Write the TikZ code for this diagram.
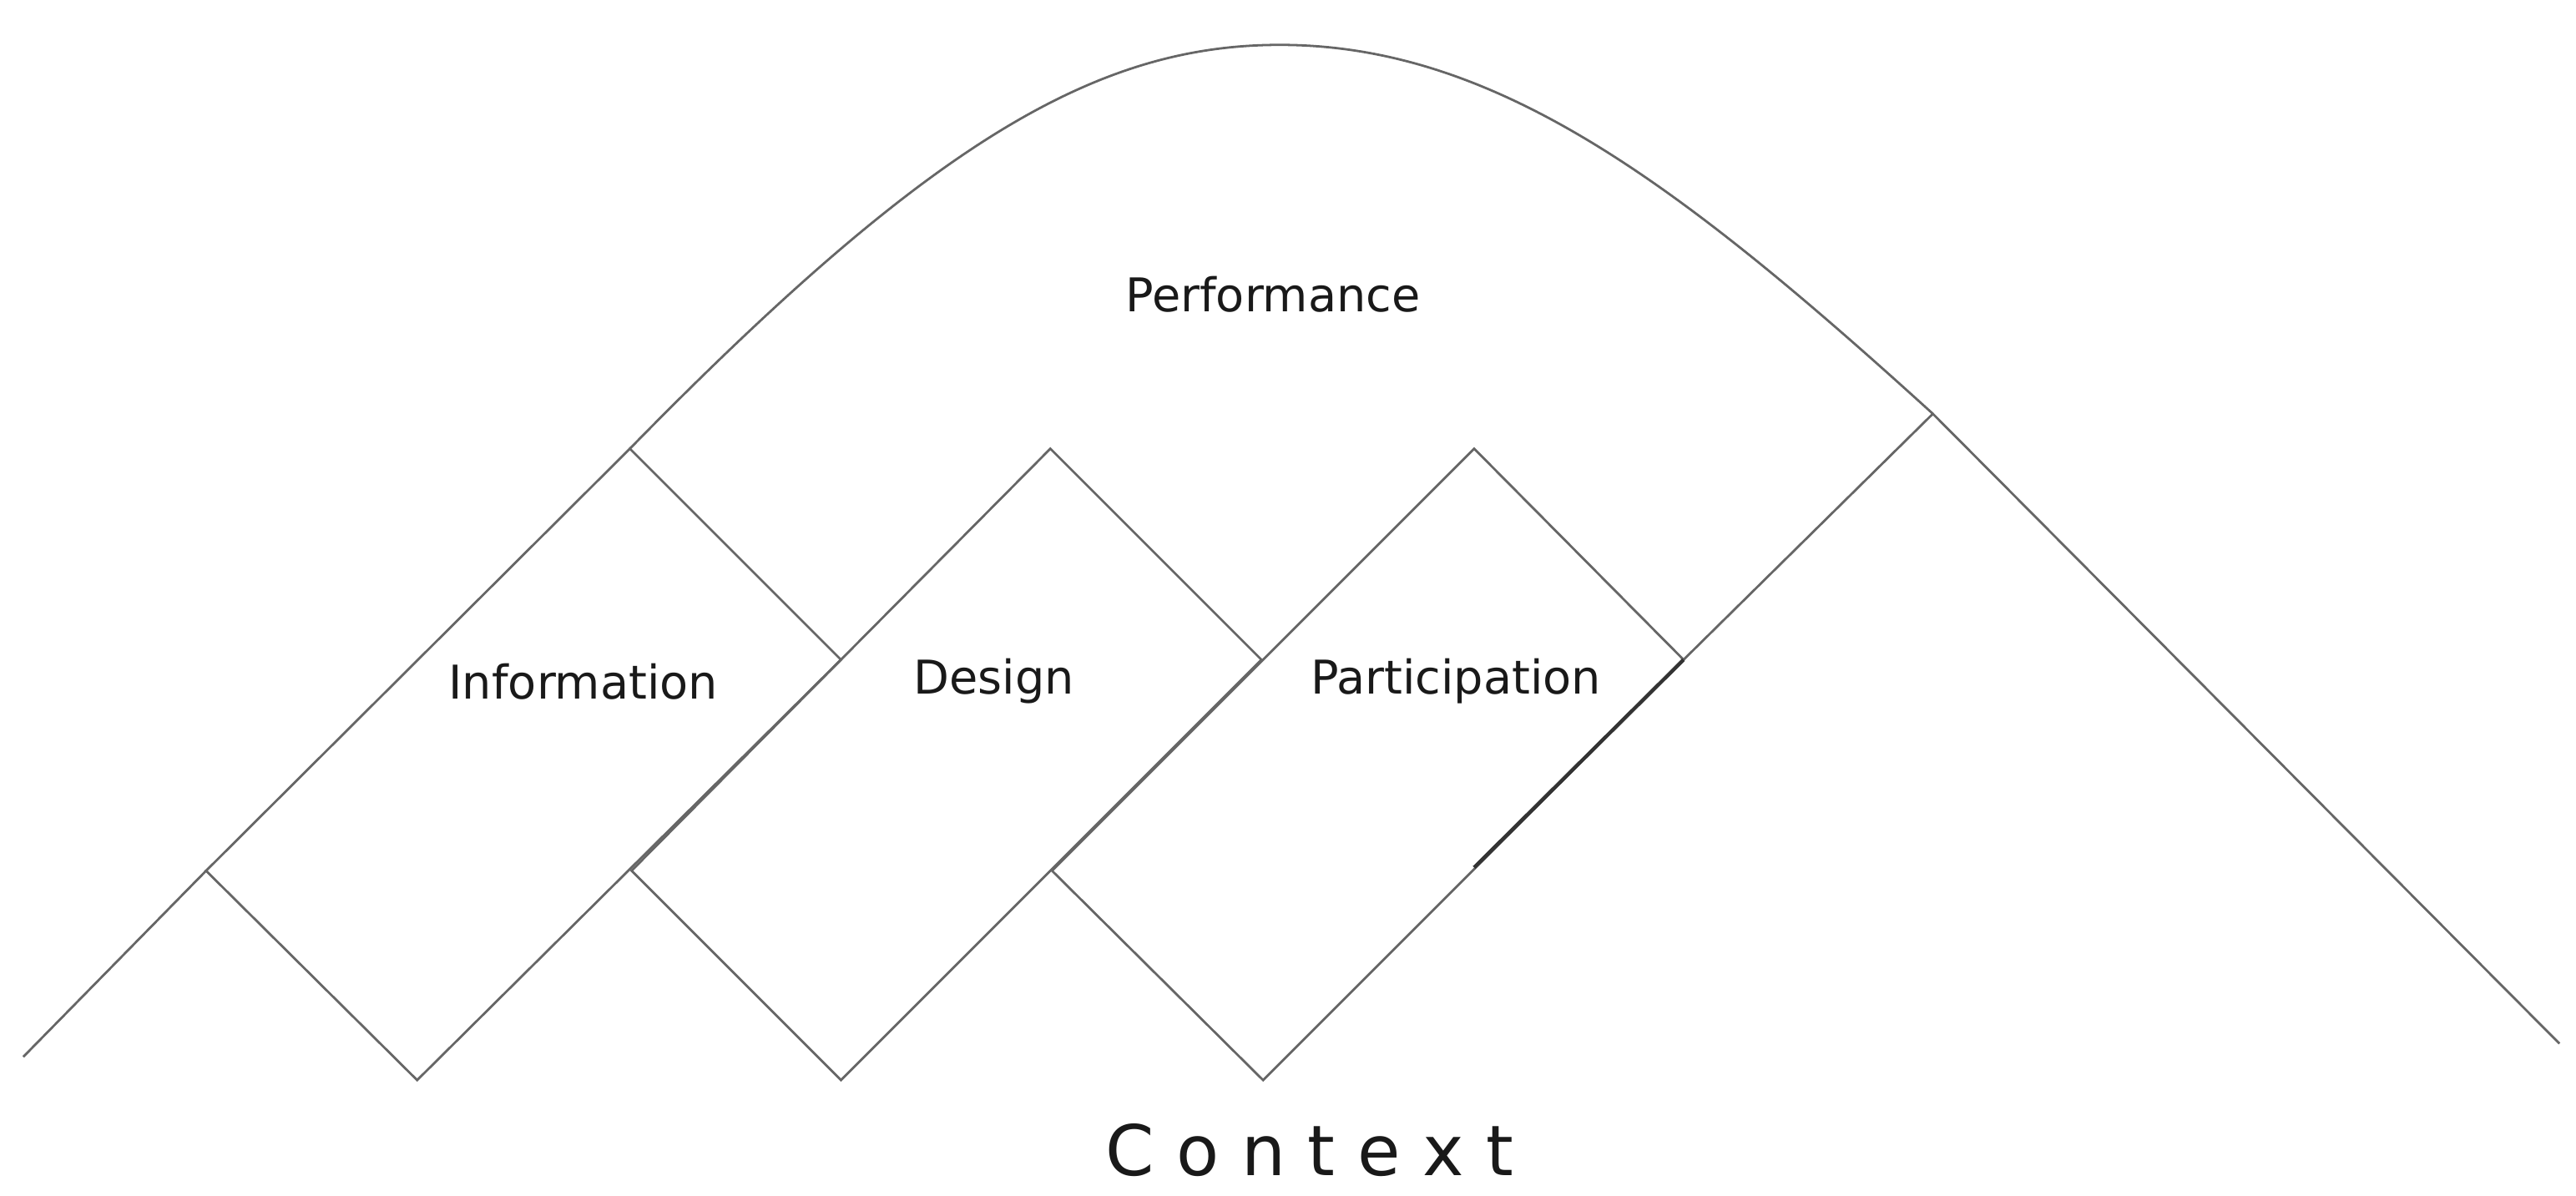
\documentclass[tikz,border=0pt]{standalone}
\usepackage{fontspec}
\setmainfont{DejaVu Sans}
\begin{document}
\begin{tikzpicture}[x=0.5pt,y=-0.5pt,
  ln/.style={draw=black!60,line width=0.7pt},
  lbl/.style={font=\fontsize{14}{17}\selectfont,text=black!90}]
\useasboundingbox (0,0) rectangle (1550,719.3);
% Information
\coordinate (it) at (379,270); \coordinate (il) at (124,524);
\coordinate (ib) at (251,650); \coordinate (ir) at (506,397);
% Design
\coordinate (dt) at (632,270); \coordinate (dl) at (380,524);
\coordinate (db) at (506,650); \coordinate (dr) at (759,397);
% Participation
\coordinate (pt) at (887,270); \coordinate (pl) at (633,524);
\coordinate (pb) at (760,650); \coordinate (pr) at (1013,397);
\coordinate (pm) at (887,522);
% outer
\coordinate (o1) at (14,636); \coordinate (o2) at (1540,628);
\coordinate (pe) at (1163,249); \coordinate (top) at (770,27);
\draw[ln] (o1) -- (il);
\draw[ln] (it) -- (il) -- (ib) -- (ir) -- cycle;
\draw[ln] (dt) -- (dl) -- (db) -- (dr) -- cycle;
\draw[ln] (pt) -- (pl) -- (pb) -- (pr) -- cycle;
\draw[ln] (pr) -- (pe) -- (o2);
\draw[ln] (it) .. controls (560,85) and (660,27) .. (top) .. controls (900,27) and (1010,110) .. (pe);
\draw[draw=black!80,line width=1.1pt] (pr) -- (pm);
\node[lbl] (perf) at (766,177) {Performance};
\node[lbl] (info) at (351,410) {Information};
\node[lbl] (des) at (598,410) {Design};
\node[lbl] (part) at (876,410) {Participation};
\node[font=\fontsize{21}{25}\selectfont,text=black!90] (ctx) at (788,692) {C o n t e x t};
\end{tikzpicture}
\end{document}
